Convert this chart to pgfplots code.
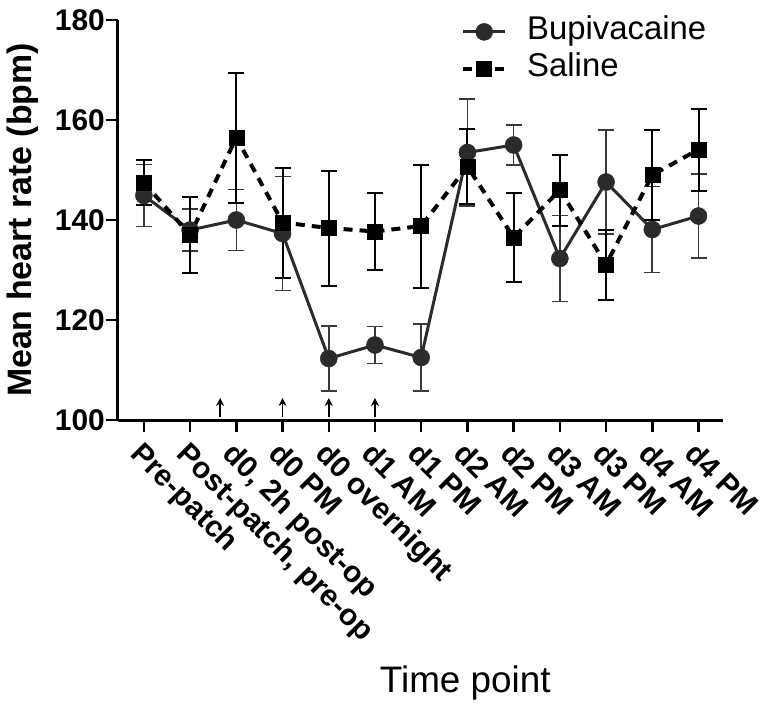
\documentclass[border=0pt]{standalone}
\usepackage{pgfplots}
\pgfplotsset{compat=1.18}
\usepackage{fontspec}
\setmainfont{Liberation Sans}
\usetikzlibrary{arrows.meta}
\definecolor{bupi}{HTML}{2B2B2B}
\definecolor{bupierr}{HTML}{3A3A3A}
\begin{document}
\begin{tikzpicture}
\begin{axis}[
  at={(0,0)}, anchor=south west,
  scale only axis, width=605bp, height=400bp,
  xmin=-0.56, xmax=12.53, ymin=100, ymax=180,
  axis x line=bottom, axis y line=left,
  axis line style={-, line width=3bp, black},
  tick align=outside, major tick length=12bp,
  every tick/.style={line width=2.5bp, black},
  xtick={0,...,12},
  xticklabels={Pre-patch, {Post-patch, pre-op}, {d0, 2h post-op}, d0 PM, d0 overnight, d1 AM, d1 PM, d2 AM, d2 PM, d3 AM, d3 PM, d4 AM, d4 PM},
  ytick={100,120,...,180},
  /pgf/number format/assume math mode=true,
  yticklabel style={font=\fontsize{30}{32}\selectfont\bfseries, inner sep=1bp},
  xticklabel style={font=\fontsize{30}{32}\selectfont\bfseries, rotate=-45, anchor=north west, inner sep=0bp, xshift=6bp, yshift=-5bp},
  ylabel={Mean heart rate (bpm)},
  ylabel style={font=\fontsize{34}{36}\selectfont\bfseries, at={(axis description cs:-0.158,0.5)}, anchor=center},
  xlabel={Time point},
  xlabel style={font=\fontsize{37}{40}\selectfont, at={(axis description cs:0.574,-0.657)}, anchor=center},
  legend cell align=left,
  legend style={draw=none, fill=none, at={(axis description cs:0.562,1.022)}, anchor=north west,
    font=\fontsize{33}{35}\selectfont, nodes={inner sep=2bp, text height=24bp, text depth=9bp},
    /tikz/every odd column/.append style={column sep=18bp}},
  legend image code/.code={\draw[mark repeat=2, mark phase=2, #1] plot coordinates {(0bp,0bp) (21bp,0bp) (42bp,0bp)};},
  clip=false,
]
% Bupivacaine
\addplot[color=bupi, line width=3bp, mark=*, mark size=8.5bp, mark options={solid, fill=bupi, draw=bupi, line width=0.5bp},
  error bars/.cd, y dir=both, y explicit,
  error bar style={line width=1.6bp, color=bupierr, solid},
  error mark options={rotate=90, line width=1.6bp, color=bupierr, mark size=8bp, solid}]
coordinates {
(0,144.9) +- (0,6.2)
(1,138.0) +- (0,4.2)
(2,140.0) +- (0,6.1)
(3,137.3) +- (0,11.4)
(4,112.3) +- (0,6.5)
(5,115.0) +- (0,3.7)
(6,112.5) +- (0,6.7)
(7,153.5) +- (0,10.7)
(8,155.0) +- (0,4.0)
(9,132.3) +- (0,8.6)
(10,147.6) +- (0,10.4)
(11,138.1) +- (0,8.6)
(12,140.8) +- (0,8.4)
};
\addlegendentry{Bupivacaine}
% Saline
\addplot[color=black, line width=4bp, dash pattern=on 9bp off 7bp, mark=square*, mark size=7.5bp, mark options={solid, fill=black, line width=0.5bp},
  error bars/.cd, y dir=both, y explicit,
  error bar style={line width=2bp, color=black, solid},
  error mark options={rotate=90, line width=2bp, color=black, mark size=8bp, solid}]
coordinates {
(0,147.5) +- (0,4.5)
(1,137.0) +- (0,7.6)
(2,156.5) +- (0,13.0)
(3,139.5) +- (0,11.0)
(4,138.4) +- (0,11.5)
(5,137.7) +- (0,7.7)
(6,138.8) +- (0,12.3)
(7,150.7) +- (0,7.5)
(8,136.5) +- (0,8.9)
(9,146.0) +- (0,7.1)
(10,131.1) +- (0,7.0)
(11,149.0) +- (0,9.0)
(12,154.1) +- (0,8.2)
};
\addlegendentry{Saline}
% arrows
\addplot[black, line width=1.8bp, -{Stealth[length=8bp, width=8bp]}, quiver={u=0, v=3.8}, forget plot]
coordinates {(1.65,100.6) (3,100.6) (4,100.6) (5,100.6)};
\end{axis}
\pgfresetboundingbox
\path (-118bp,-289bp) rectangle (659bp,420bp);
\end{tikzpicture}
\end{document}
